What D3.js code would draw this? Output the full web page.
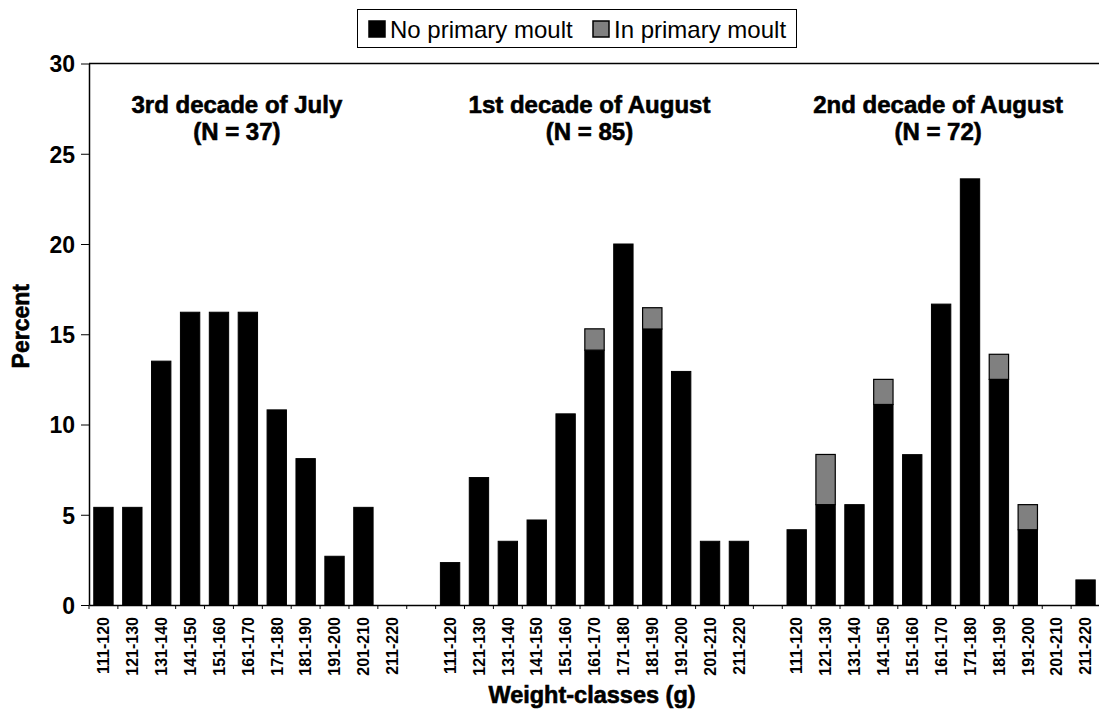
<!DOCTYPE html>
<html>
<head>
<meta charset="utf-8">
<script src="https://cdn.jsdelivr.net/npm/d3@7"></script>
<style>
  body { margin: 0; background: #fff; }
  svg { display: block; font-family: "Liberation Sans", Arial, sans-serif; }
  .bold { font-weight: bold; stroke: #000; stroke-width: 0.6px; }
</style>
</head>
<body>
<div id="chart"></div>
<script>
const weightClasses = ["111-120", "121-130", "131-140", "141-150", "151-160", "161-170",
  "171-180", "181-190", "191-200", "201-210", "211-220"];
const periods = ["3rd decade of July", "1st decade of August", "2nd decade of August"];
const sampleSizes = [37, 85, 72];

// percent of birds per weight class
const julyNoMoult = [5.41, 5.41, 13.51, 16.22, 16.22, 16.22, 10.81, 8.11, 2.70, 5.41, 0];
const julyInMoult = [0, 0, 0, 0, 0, 0, 0, 0, 0, 0, 0];
const aug1NoMoult = [2.35, 7.06, 3.53, 4.71, 10.59, 14.12, 20.00, 15.29, 12.94, 3.53, 3.53];
const aug1InMoult = [0, 0, 0, 0, 0, 1.18, 0, 1.18, 0, 0, 0];
const aug2NoMoult = [4.17, 5.56, 5.56, 11.11, 8.33, 16.67, 23.61, 12.50, 4.17, 0, 1.39];
const aug2InMoult = [0, 2.78, 0, 1.39, 0, 0, 0, 1.39, 1.39, 0, 0];

const yTicks = [0, 5, 10, 15, 20, 25, 30];
const seriesNames = ["No primary moult", "In primary moult"];

const noMoult = [julyNoMoult, aug1NoMoult, aug2NoMoult];
const inMoult = [julyInMoult, aug1InMoult, aug2InMoult];

const W = 1099, H = 711;
const MARGIN = { left: 89, right: -1, top: 63.5, bottom: 106 };
const COLORS = { none: "#000000", moult: "#808080" };
const TITLE_SHIFT = [-11, -5, -3];

// one slot per class, with an empty slot between the periods
const slots = [];
periods.forEach((p, g) => {
  if (g > 0) slots.push(`gap${g}`);
  weightClasses.forEach((c) => slots.push(`${g}|${c}`));
});

const rows = [];
periods.forEach((p, g) => {
  weightClasses.forEach((c, i) => {
    rows.push({ key: `${g}|${c}`, none: noMoult[g][i], moult: inMoult[g][i] });
  });
});

const svg = d3.select("#chart").append("svg").attr("width", W).attr("height", H);
svg.append("rect").attr("width", W).attr("height", H).attr("fill", "#fff");

const x = d3.scaleBand().domain(slots).range([MARGIN.left, W - MARGIN.right])
  .paddingInner(0.33).paddingOuter(0.165);
const y = d3.scaleLinear().domain([0, 30]).range([H - MARGIN.bottom, MARGIN.top]);

// bars
const bars = svg.append("g").selectAll("g").data(rows).join("g");
bars.filter((d) => d.none > 0).append("rect")
  .attr("x", (d) => x(d.key))
  .attr("width", x.bandwidth())
  .attr("y", (d) => y(d.none))
  .attr("height", (d) => y(0) - y(d.none))
  .attr("fill", COLORS.none)
  .attr("stroke", "#000").attr("stroke-width", 1);
bars.filter((d) => d.moult > 0).append("rect")
  .attr("x", (d) => x(d.key))
  .attr("width", x.bandwidth())
  .attr("y", (d) => y(d.none + d.moult))
  .attr("height", (d) => y(d.none) - y(d.none + d.moult))
  .attr("fill", COLORS.moult)
  .attr("stroke", "#000").attr("stroke-width", 1.2);

// frame top line
svg.append("line")
  .attr("x1", MARGIN.left).attr("x2", W)
  .attr("y1", y(30)).attr("y2", y(30))
  .attr("stroke", "#000").attr("stroke-width", 1.5);

// y axis
const yAxis = svg.append("g")
  .attr("transform", `translate(${MARGIN.left},0)`)
  .call(d3.axisLeft(y).tickValues(yTicks).tickSize(8).tickPadding(6).tickSizeOuter(0));
yAxis.select(".domain").attr("stroke-width", 1.5);
yAxis.selectAll("text").attr("font-size", 23).attr("font-weight", "bold")
  .attr("font-family", "Liberation Sans, Arial, sans-serif").attr("dy", "0.36em");

// x axis: labels at slot centres, ticks at slot boundaries
const labelKeys = slots.filter((s) => !s.startsWith("gap"));
const xAxis = svg.append("g")
  .attr("transform", `translate(0,${y(0)})`)
  .call(d3.axisBottom(x).tickValues(labelKeys).tickFormat((d) => d.split("|")[1])
    .tickSize(0).tickSizeOuter(0));
xAxis.select(".domain").attr("stroke-width", 1.5);
xAxis.selectAll("text")
  .attr("font-size", 16).attr("font-weight", "bold")
  .attr("font-family", "Liberation Sans, Arial, sans-serif")
  .attr("transform", "rotate(-90)")
  .attr("text-anchor", "end")
  .attr("x", -12).attr("y", 0).attr("dy", "0.36em");

const [r0] = x.range();
svg.append("g").selectAll("line")
  .data(d3.range(slots.length + 1))
  .join("line")
  .attr("x1", (i) => r0 + i * x.step())
  .attr("x2", (i) => r0 + i * x.step())
  .attr("y1", y(0)).attr("y2", y(0) + 4)
  .attr("stroke", "#000").attr("stroke-width", 1);

// period titles
periods.forEach((p, g) => {
  const first = x(`${g}|${weightClasses[0]}`);
  const last = x(`${g}|${weightClasses[weightClasses.length - 1]}`) + x.bandwidth();
  const cx = (first + last) / 2 + TITLE_SHIFT[g];
  const t = svg.append("text").attr("class", "bold")
    .attr("text-anchor", "middle").attr("font-size", 24).attr("x", cx);
  t.append("tspan").attr("x", cx).attr("y", 113).text(p);
  t.append("tspan").attr("x", cx).attr("y", 140).text(`(N = ${sampleSizes[g]})`);
});

// axis titles
svg.append("text").attr("class", "bold")
  .attr("transform", `translate(29,${(y(0) + y(30)) / 2 - 8}) rotate(-90)`)
  .attr("text-anchor", "middle").attr("font-size", 23)
  .text("Percent");
svg.append("text").attr("class", "bold")
  .attr("x", (MARGIN.left + W) / 2 - 2).attr("y", 703)
  .attr("text-anchor", "middle").attr("font-size", 23.5)
  .text("Weight-classes (g)");

// legend
const legend = svg.append("g");
legend.append("rect").attr("x", 357.5).attr("y", 9.5).attr("width", 439).attr("height", 38)
  .attr("fill", "#fff").attr("stroke", "#000").attr("stroke-width", 1);
const legendX = [369, 593];
seriesNames.forEach((name, i) => {
  legend.append("rect").attr("x", legendX[i]).attr("y", 21).attr("width", 16).attr("height", 16)
    .attr("fill", i === 0 ? COLORS.none : COLORS.moult).attr("stroke", "#000").attr("stroke-width", 1.5);
  legend.append("text").attr("x", legendX[i] + 21).attr("y", 38)
    .attr("font-size", 24).text(name);
});
</script>
</body>
</html>
